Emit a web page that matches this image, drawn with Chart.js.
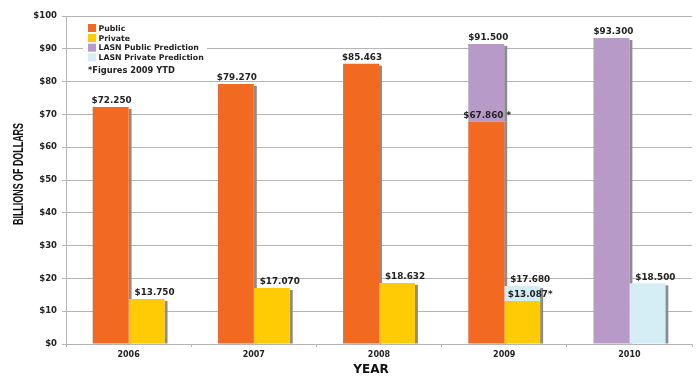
<!DOCTYPE html>
<html><head><meta charset="utf-8">
<script src="https://cdn.jsdelivr.net/npm/chart.js@4.4.0/dist/chart.umd.min.js"></script>
<style>html,body{margin:0;padding:0;background:#fff;}#wrap{width:700px;height:381px;}</style>
</head><body><div id="wrap"><canvas id="c" width="700" height="381"></canvas></div>
<script>
const categories = ['2006', '2007', '2008', '2009', '2010'];
const publicValues = [72.250, 79.270, 85.463, 67.860, null];
const privateValues = [13.750, 17.070, 18.632, 13.087, null];
const publicPrediction = [null, null, null, 91.500, 93.300];
const privatePrediction = [null, null, null, 17.680, 18.500];
const ytdFlags = [false, false, false, true, false];
const yTickValues = [0, 10, 20, 30, 40, 50, 60, 70, 80, 90, 100];
const seriesNames = ['Public', 'LASN Public Prediction', 'Private', 'LASN Private Prediction'];
const footnote = '*Figures 2009 YTD';

const COLORS = {
  pub: '#F26A22', pubPred: '#B89AC8', priv: '#FFCB05', privPred: '#D5EDF4'
};
const diff = (pred, act) => pred.map((p, i) => p == null ? null : +(p - (act[i] || 0)).toFixed(3));

const rawValues = [publicValues, publicPrediction, privateValues, privatePrediction];
const labelOffsets = [1, 2, 8, 8];

const fmt = v => '$' + v.toFixed(3);

const shadowPlugin = {
  id: 'shadows',
  beforeDatasetsDraw(chart) {
    const ctx = chart.ctx;
    ctx.save();
    ctx.fillStyle = '#8c8c8c';
    chart.data.datasets.forEach((ds, di) => {
      const meta = chart.getDatasetMeta(di);
      meta.data.forEach((el, i) => {
        if (ds.data[i] == null) return;
        const isLower = (di === 0 && publicPrediction[i] != null) || (di === 2 && privatePrediction[i] != null);
        const off = isLower ? 0 : 2;
        const x = el.x + el.width / 2;
        const top = Math.min(el.y, el.base) + off;
        const bottom = Math.max(el.y, el.base);
        ctx.fillRect(x, top, 3, bottom - top);
      });
    });
    ctx.restore();
  }
};

const legendPlugin = {
  id: 'customLegend',
  beforeDatasetsDraw(chart) {
    const ctx = chart.ctx;
    ctx.save();
    ctx.fillStyle = '#fff';
    ctx.fillRect(83, 20, 124, 58);
    const items = [
      [seriesNames[0], COLORS.pub],
      [seriesNames[2], COLORS.priv],
      [seriesNames[1], COLORS.pubPred],
      [seriesNames[3], COLORS.privPred]
    ];
    const rows = [28, 38, 47.7, 57.3];
    ctx.font = 'bold 7.8px "DejaVu Sans"';
    ctx.textBaseline = 'middle';
    ctx.textAlign = 'left';
    items.forEach((it, k) => {
      ctx.fillStyle = it[1];
      ctx.fillRect(88, rows[k] - 4, 8, 8);
      ctx.fillStyle = '#222';
      ctx.fillText(it[0], 98.5, rows[k] + 0.5);
    });
    ctx.font = 'bold 8.3px "DejaVu Sans"';
    ctx.fillText(footnote, 88, 71);
    ctx.restore();
  }
};

const labelPlugin = {
  id: 'valueLabels',
  afterDatasetsDraw(chart) {
    const ctx = chart.ctx;
    ctx.save();
    ctx.font = 'bold 8.8px "DejaVu Sans"';
    ctx.fillStyle = '#222';
    ctx.textAlign = 'center';
    ctx.textBaseline = 'middle';
    chart.data.datasets.forEach((ds, di) => {
      const meta = chart.getDatasetMeta(di);
      meta.data.forEach((el, i) => {
        const v = rawValues[di][i];
        if (v == null) return;
        let txt = fmt(v);
        if ((di === 0 || di === 2) && ytdFlags[i]) txt += di === 0 ? ' *' : '*';
        ctx.fillText(txt, el.x + labelOffsets[di], Math.min(el.y, el.base) - 6);
      });
    });
    ctx.restore();
  }
};

const titlePlugin = {
  id: 'axisTitles',
  afterDraw(chart) {
    const ctx = chart.ctx;
    ctx.save();
    ctx.fillStyle = '#111';
    ctx.textAlign = 'center';
    ctx.textBaseline = 'middle';
    ctx.font = 'bold 12px "DejaVu Sans"';
    ctx.fillText('YEAR', 371, 369.5);
    ctx.translate(22.7, 174);
    ctx.rotate(-Math.PI / 2);
    ctx.font = 'bold 15.4px "Liberation Sans"';
    ctx.textBaseline = 'alphabetic';
    const t = 'BILLIONS OF DOLLARS';
    const w = ctx.measureText(t).width;
    ctx.scale(102 / w, 1);
    ctx.fillText(t, 0, 0);
    ctx.restore();
  }
};

new Chart(document.getElementById('c'), {
  type: 'bar',
  data: {
    labels: categories,
    datasets: [
      { label: seriesNames[0], data: publicValues, backgroundColor: COLORS.pub, stack: 'pub' },
      { label: seriesNames[1], data: diff(publicPrediction, publicValues), backgroundColor: COLORS.pubPred, stack: 'pub' },
      { label: seriesNames[2], data: privateValues, backgroundColor: COLORS.priv, stack: 'priv' },
      { label: seriesNames[3], data: diff(privatePrediction, privateValues), backgroundColor: COLORS.privPred, stack: 'priv' }
    ]
  },
  options: {
    responsive: false,
    devicePixelRatio: 1,
    animation: false,
    categoryPercentage: 0.574,
    barPercentage: 1,
    layout: { padding: { left: 0, top: 16, right: 8, bottom: 0 } },
    plugins: { legend: { display: false }, tooltip: { enabled: false } },
    scales: {
      x: {
        stacked: true,
        grid: { display: true, drawOnChartArea: false, drawTicks: true, tickLength: 3, offset: true, color: '#b5b5b5' },
        border: { color: '#b5b5b5', width: 1 },
        ticks: { color: '#222', font: { family: 'DejaVu Sans', size: 8, weight: 'bold' }, padding: 3 },
        afterFit(s) { s.height = 37; }
      },
      y: {
        stacked: true,
        min: 0, max: 100,
        afterBuildTicks(s) { s.ticks = yTickValues.map(v => ({ value: v })); },
        grid: { color: '#b5b5b5', tickLength: 4, lineWidth: 1 },
        border: { color: '#b5b5b5', width: 1 },
        ticks: { color: '#222', font: { family: 'DejaVu Sans', size: 8.5, weight: 'bold' }, padding: 5, callback: v => '$' + v },
        afterFit(s) { s.width = 66; }
      }
    }
  },
  plugins: [shadowPlugin, legendPlugin, labelPlugin, titlePlugin]
});
</script></body></html>
